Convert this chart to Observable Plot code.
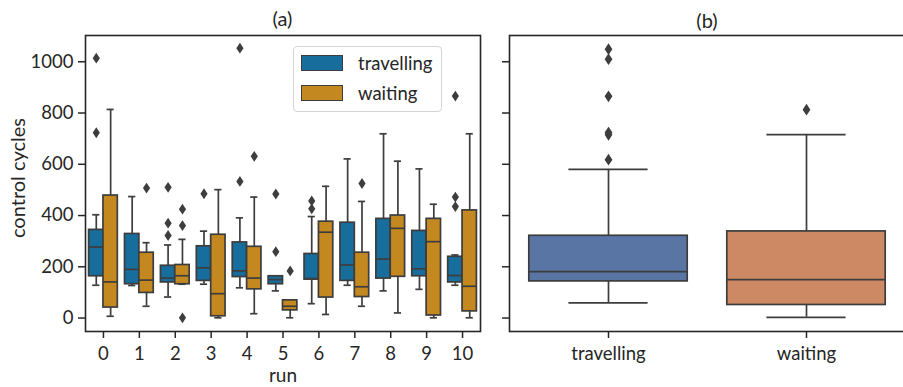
<!DOCTYPE html>
<html><head><meta charset="utf-8">
<script src="https://cdn.jsdelivr.net/npm/d3@7"></script>
<script src="https://cdn.jsdelivr.net/npm/@observablehq/plot@0.6"></script>
<style>
body{margin:0;background:#fff;}
#wrap{position:relative;width:903px;height:387px;overflow:hidden;font-family:Lato,sans-serif;color:#262626;}
#wrap svg{position:absolute;top:0;}
.lbl{position:absolute;font-size:20px;white-space:nowrap;line-height:1;}
</style></head><body><div id="wrap"></div>
<script>
// ---- data ----
const runs = [0,1,2,3,4,5,6,7,8,9,10];
const types = ["travelling","waiting"];
const yTicks = [0,200,400,600,800,1000];

const travellingLow    = [128,127, 82,132,118,106, 56,128,106,112,128];
const travellingQ1     = [163,132,139,145,160,132,150,145,154,163,139];
const travellingMedian = [277,190,156,196,184,150,154,207,230,192,166];
const travellingQ3     = [344,328,204,280,295,163,250,372,387,340,239];
const travellingHigh   = [403,474,285,339,391,163,396,621,719,582,246];
const travellingOutliers = [[0,1014],[0,723],[2,510],[2,370],[2,322],[3,485],[4,1053],[4,533],
  [5,484],[5,259],[6,457],[6,426],[10,866],[10,472],[10,435]];

const waitingLow    = [  7, 46,132,  1, 17,  1, 14, 46, 20,  1,  1];
const waitingQ1     = [ 41, 98,132,  7,112, 30, 80, 82,161, 10, 26];
const waitingMedian = [141,148,165, 95,156, 46,335,122,350,298,124];
const waitingQ3     = [478,255,207,325,278, 69,376,255,400,387,420];
const waitingHigh   = [814,294,307,501,472, 69,514,455,612,444,719];
const waitingOutliers = [[1,507],[2,425],[2,361],[2,1],[4,631],[5,184],[7,525]];

// overall (panel b): [low, q1, median, q3, high]
const overallTravelling = [59,143,181,321,580];
const overallWaiting    = [3,51,150,338,716];
const overallTravellingOutliers = [1049,1010,865,724,715,618];
const overallWaitingOutliers = [813];

// ---- styling ----
const colorsA = {travelling:"#176d9c", waiting:"#c38820"};
const colorsB = {travelling:"#5875a4", waiting:"#cc8963"};
const lineColor = "#3d3d3d";
const lw = 1.7;
const yDomain = [-52.5, 1102.5];
const tickFont = 18.5;

const thinDiamond = {
  draw(ctx, size) {
    const r = Math.sqrt(size/Math.PI);
    ctx.moveTo(0,-1.5*r); ctx.lineTo(r,0); ctx.lineTo(0,1.5*r); ctx.lineTo(-r,0); ctx.closePath();
  }
};

// ---- tables ----
const boxesA = runs.flatMap((r,i) => [
  {run:r, type:"travelling", lo:travellingLow[i], q1:travellingQ1[i], med:travellingMedian[i], q3:travellingQ3[i], hi:travellingHigh[i]},
  {run:r, type:"waiting", lo:waitingLow[i], q1:waitingQ1[i], med:waitingMedian[i], q3:waitingQ3[i], hi:waitingHigh[i]}
]);
const outA = [
  ...travellingOutliers.map(([r,v]) => ({run:r, type:"travelling", v})),
  ...waitingOutliers.map(([r,v]) => ({run:r, type:"waiting", v}))
];
const off = t => t === "travelling" ? -0.2 : 0.2;
const cx = d => d.run + off(d.type);

const boxesB = [overallTravelling, overallWaiting].map((s,i) => ({i, type:types[i], lo:s[0], q1:s[1], med:s[2], q3:s[3], hi:s[4]}));
const outB = [
  ...overallTravellingOutliers.map(v => ({i:0, v})),
  ...overallWaitingOutliers.map(v => ({i:1, v}))
];

function boxMarks(data, xc, half, cap, fillOf) {
  return [
    Plot.ruleX(data, {x: xc, y1:"lo", y2:"q1", stroke:lineColor, strokeWidth:lw}),
    Plot.ruleX(data, {x: xc, y1:"q3", y2:"hi", stroke:lineColor, strokeWidth:lw}),
    Plot.ruleY(data, {y:"lo", x1: d=>xc(d)-cap, x2: d=>xc(d)+cap, stroke:lineColor, strokeWidth:lw}),
    Plot.ruleY(data, {y:"hi", x1: d=>xc(d)-cap, x2: d=>xc(d)+cap, stroke:lineColor, strokeWidth:lw}),
    Plot.rect(data, {x1: d=>xc(d)-half, x2: d=>xc(d)+half, y1:"q1", y2:"q3", fill:fillOf, stroke:lineColor, strokeWidth:lw}),
    Plot.ruleY(data, {y:"med", x1: d=>xc(d)-half, x2: d=>xc(d)+half, stroke:lineColor, strokeWidth:lw})
  ];
}

const common = {
  height: 387, marginTop: 35, marginBottom: 56,
  style: {fontFamily:"Lato, sans-serif", fontSize:tickFont+"px", color:"#262626", background:"transparent", overflow:"visible"}
};

const plotA = Plot.plot({
  ...common, width: 481, marginLeft: 85, marginRight: 1,
  x: {domain:[-0.5,10.5]},
  y: {domain:yDomain},
  marks: [
    ...boxMarks(boxesA, cx, 0.2, 0.1, d => colorsA[d.type]),
    Plot.dot(outA, {x: cx, y:"v", symbol: thinDiamond, r:3.6, fill:lineColor, stroke:"none"}),
    Plot.frame({stroke:"#262626", strokeWidth:1.6}),
    Plot.axisY({ticks:yTicks, tickSize:7, tickPadding:5, strokeWidth:1.5, label:null, fontSize:tickFont, tickFormat:d=>String(d)}),
    Plot.axisX({ticks:runs, tickSize:7, tickPadding:8, strokeWidth:1.5, label:null, fontSize:tickFont, tickFormat:d=>String(d)})
  ]
});

const plotB = Plot.plot({
  ...common, width: 430, marginLeft: 29, marginRight: 5,
  x: {domain:[-0.5,1.5]},
  y: {domain:yDomain},
  marks: [
    ...boxMarks(boxesB, d=>d.i, 0.4, 0.2, d => colorsB[d.type]),
    Plot.dot(outB, {x:"i", y:"v", symbol: thinDiamond, r:3.9, fill:lineColor, stroke:"none"}),
    Plot.frame({stroke:"#262626", strokeWidth:1.6}),
    Plot.axisY({ticks:yTicks, tickSize:7, strokeWidth:1.5, label:null, tickFormat:()=>""}),
    Plot.axisX({ticks:[0,1], tickSize:7, tickPadding:8, strokeWidth:1.5, label:null, fontSize:tickFont, tickFormat:i=>types[i]})
  ]
});

const wrap = document.getElementById("wrap");
plotA.style.left = "0px";
plotB.style.left = "480px";
wrap.appendChild(plotA);
wrap.appendChild(plotB);

function addText(txt, x, y, opts={}) {
  const el = document.createElement("div");
  el.className = "lbl";
  el.textContent = txt;
  el.style.left = x + "px"; el.style.top = y + "px";
  if (opts.size) el.style.fontSize = opts.size + "px";
  el.style.transform = opts.transform || "translate(-50%,-50%)";
  wrap.appendChild(el);
  return el;
}
addText("(a)", 282.5, 18);
addText("(b)", 707, 20);
addText("run", 283, 374, {size:19});
addText("control cycles", 17, 178, {transform:"translate(-50%,-50%) rotate(-90deg)"});

// legend
const leg = document.createElement("div");
Object.assign(leg.style, {position:"absolute", left:"293px", top:"46px", width:"147px", height:"64px",
  border:"1px solid #d4d4d4", borderRadius:"4px", background:"rgba(255,255,255,0.85)"});
wrap.appendChild(leg);
types.forEach((t,i) => {
  const p = document.createElement("div");
  Object.assign(p.style, {position:"absolute", left:"301px", top:(55+i*30)+"px", width:"40px", height:"14px",
    background:colorsA[t], border:"1px solid "+lineColor});
  wrap.appendChild(p);
  addText(t, 358, 63+i*30, {transform:"translate(0,-50%)", size:18.5});
});
</script></body></html>
